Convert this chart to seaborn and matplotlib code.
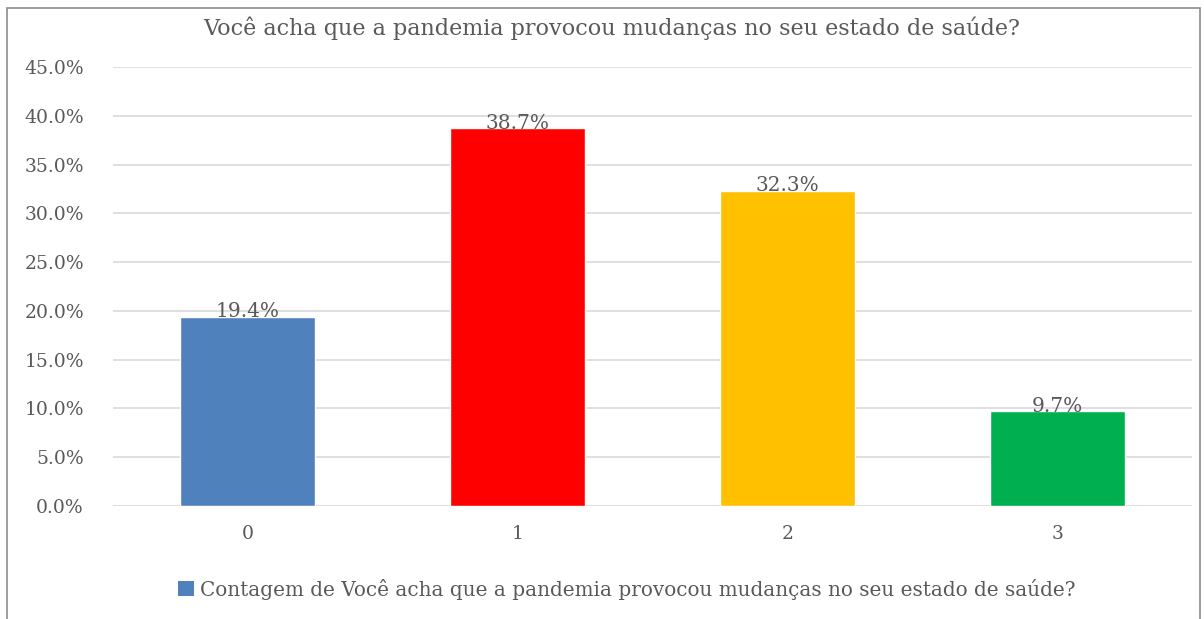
import matplotlib
matplotlib.use("Agg")
from matplotlib import pyplot as plt
from matplotlib.patches import Rectangle, Patch
import pandas as pd
import seaborn as sns

sns.set_style("white")
plt.rcParams['font.family'] = ['DejaVu Serif']

categorias = ['0', '1', '2', '3']
percentuais = [19.4, 38.7, 32.3, 9.7]
cores = ['#4f81bd', '#ff0000', '#ffc000', '#00b050']
titulo = 'Você acha que a pandemia provocou mudanças no seu estado de saúde?'
rotulo_legenda = 'Contagem de ' + titulo

df = pd.DataFrame({'cat': categorias, 'pct': percentuais})
texto = '#595959'

fig = plt.figure(figsize=(12.04, 6.19), dpi=100)
ax = fig.add_axes([113 / 1204, 1 - 506 / 619, (1192 - 113) / 1204, (506 - 67) / 619])

sns.barplot(data=df, x='cat', y='pct', hue='cat', palette=dict(zip(categorias, cores)),
            width=0.5, saturation=1, legend=False, ax=ax, zorder=3)

ax.set_ylim(0, 45)
ax.set_xlim(-0.5, 3.5)
ax.set_yticks(range(0, 46, 5))
ax.set_yticklabels([f'{v:.1f}%' for v in range(0, 46, 5)])
ax.yaxis.grid(True, color='#d9d9d9', linewidth=1.2, zorder=0)
ax.set_axisbelow(True)
for s in ax.spines.values():
    s.set_visible(False)
ax.tick_params(axis='both', length=0, labelsize=13.5, labelcolor=texto)
ax.tick_params(axis='y', pad=21)
ax.tick_params(axis='x', pad=14)
ax.set_xlabel('')
ax.set_ylabel('')

for c in ax.containers:
    ax.bar_label(c, labels=[f'{v:.1f}%' for v in c.datavalues], padding=-3,
                 fontsize=14.5, color=texto)

fig.text(612 / 1204, 1 - 28 / 619, titulo, ha='center', va='center', fontsize=16, color=texto)

fig.legend(handles=[Patch(facecolor=cores[0], edgecolor='none', label=rotulo_legenda)],
           loc='center', bbox_to_anchor=(627 / 1204, 1 - 589 / 619), frameon=False,
           fontsize=14.4, labelcolor=texto, handlelength=0.8, handleheight=0.8,
           handletextpad=0.3)

fig.patches.append(Rectangle((7 / 1204, -0.01), (1200 - 7) / 1204, 1.01 - 8 / 619,
                             transform=fig.transFigure, fill=False, edgecolor='#8c8c8c',
                             linewidth=1.2))

fig.savefig('out.png', dpi=100)
